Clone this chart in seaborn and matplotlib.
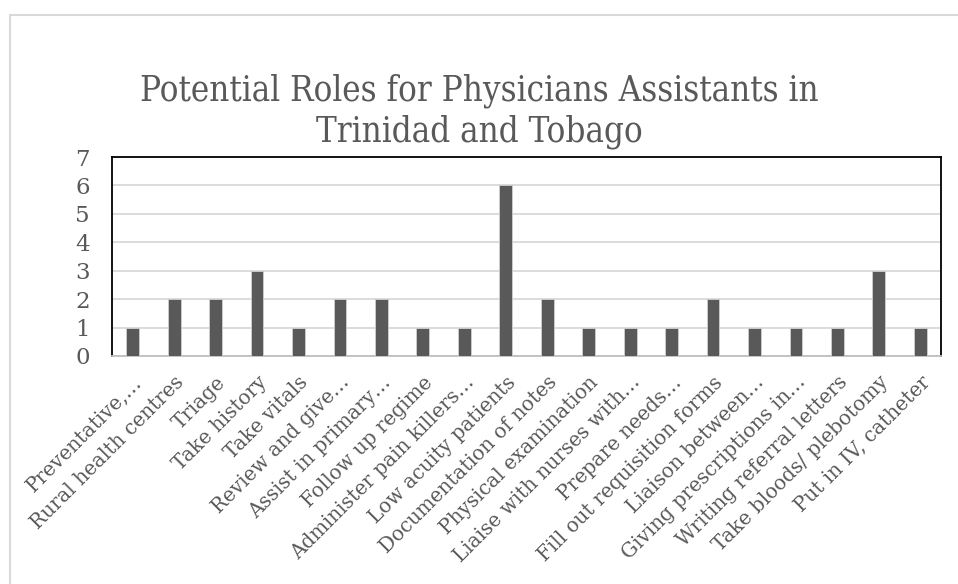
import matplotlib
matplotlib.use("Agg")
import matplotlib.pyplot as plt
import seaborn as sns
import pandas as pd
from matplotlib.patches import Rectangle

roles = [
    "Preventative,…", "Rural health centres", "Triage", "Take history",
    "Take vitals", "Review and give…", "Assist in primary…", "Follow up regime",
    "Administer pain killers…", "Low acuity patients", "Documentation of notes",
    "Physical examination", "Liaise with nurses with…", "Prepare needs…",
    "Fill out requisition forms", "Liaison between…", "Giving prescriptions in…",
    "Writing referral letters", "Take bloods/ plebotomy", "Put in IV, catheter",
]
counts = [1, 2, 2, 3, 1, 2, 2, 1, 1, 6, 2, 1, 1, 1, 2, 1, 1, 1, 3, 1]

df = pd.DataFrame({"role": roles, "count": counts})

sns.set_style("white")
plt.rcParams["font.family"] = ["DejaVu Serif"]
text_col = "#595959"

fig = plt.figure(figsize=(9.58, 5.84), dpi=100)
ax = fig.add_axes([112 / 958, 1 - 356 / 584, (941 - 112) / 958, (356 - 157) / 584])

sns.barplot(data=df, x="role", y="count", color="#595959", width=0.31,
            edgecolor="#d0d0d0", linewidth=0.6, saturation=1, ax=ax, zorder=3)

ax.set_ylim(0, 7)
ax.set_yticks(range(0, 8))
ax.set_xlim(-0.5, len(roles) - 0.5)
ax.yaxis.grid(True, color="#d9d9d9", linewidth=1.3, zorder=0)
ax.set_axisbelow(True)
ax.set_xlabel("")
ax.set_ylabel("")
for side in ["top", "left", "right"]:
    ax.spines[side].set_color("black")
    ax.spines[side].set_linewidth(1.3)
ax.spines["bottom"].set_color("#bfbfbf")
ax.spines["bottom"].set_linewidth(1.3)
ax.tick_params(axis="both", length=0, colors=text_col)
ax.tick_params(axis="y", labelsize=16.5, pad=16)
ax.tick_params(axis="x", pad=12)
ax.set_xticks(range(len(roles)))
ax.set_xticklabels(roles, rotation=45, ha="right", rotation_mode="anchor",
                   fontsize=14.3, color=text_col)

fig.text(0.5, 1 - 111 / 584, "Potential Roles for Physicians Assistants in\nTrinidad and Tobago",
         ha="center", va="center", fontsize=25, color=text_col,
         fontstretch="condensed", linespacing=1.25)

fig.patches.append(Rectangle((10 / 958, -0.1), 1.2, 1 - 15 / 584 + 0.1,
                             transform=fig.transFigure, fill=False,
                             edgecolor="#d9d9d9", linewidth=1.5))

fig.savefig("out.png", dpi=100, facecolor="white")
